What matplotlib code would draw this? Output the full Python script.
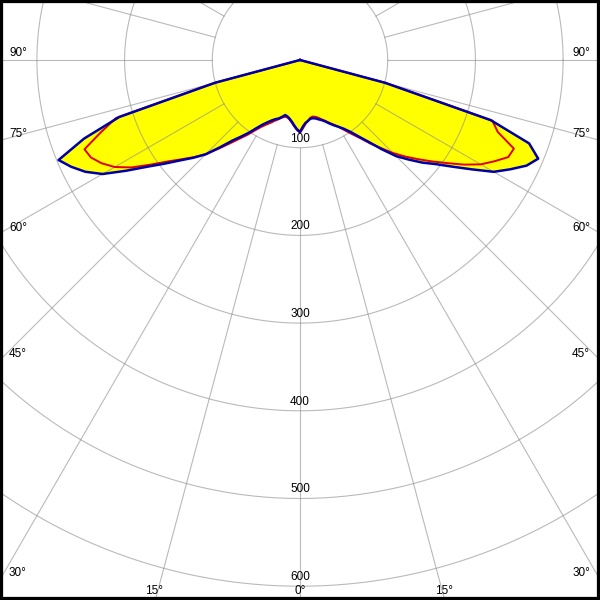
import numpy as np
import matplotlib
matplotlib.use("Agg")
import matplotlib.pyplot as plt

# ---------------------------------------------------------------------------
# Data: luminous intensity (cd) vs gamma angle (deg from nadir), 2.5 deg steps
# ---------------------------------------------------------------------------
gamma = np.arange(0, 92.5, 2.5)

# blue curve, left half (C180) and right half (C0)
blue_left = [82, 79, 75, 71, 68, 66, 65, 68, 71, 73, 76, 80, 85, 92, 101, 110,
             120, 135, 152, 165, 178, 194, 212, 235, 260, 276, 288, 298, 262,
             216, 100, 0, 0, 0, 0, 0, 0]
blue_right = [82, 76, 72, 70, 68, 68, 69, 71, 73, 76, 80, 84, 88, 93, 100, 110,
              122, 138, 155, 168, 182, 195, 212, 232, 255, 270, 285, 294, 278,
              228, 100, 0, 0, 0, 0, 0, 0]

# red curve, left half and right half
red_left = [83, 80, 76, 72, 69, 67, 67, 69, 72, 75, 79, 83, 88, 95, 104, 113,
            124, 137, 152, 164, 176, 190, 208, 228, 244, 255, 263, 266, 242,
            220, 102, 0, 0, 0, 0, 0, 0]
red_right = [83, 78, 73, 70, 67, 66, 67, 69, 72, 75, 79, 83, 88, 95, 103, 112,
             124, 136, 150, 163, 176, 190, 205, 222, 238, 250, 262, 264, 240,
             230, 102, 0, 0, 0, 0, 0, 0]

ring_values = [100, 200, 300, 400, 500, 600]
spoke_angles = np.arange(0, 360, 15)

left_labels = ["90°", "75°", "60°", "45°", "30°"]
bottom_labels = ["15°", "0°", "15°"]

# ---------------------------------------------------------------------------
# Geometry helpers (pixel layout of the 600x600 picture)
# ---------------------------------------------------------------------------
PX = 100 / 87.7          # cd per pixel
CX, CY = 300, 60         # centre of the diagram in pixels


def px(xp, yp):
    return (xp - CX) * PX, (CY - yp) * PX


def curve_xy(left, right):
    g = np.radians(gamma)
    left = np.asarray(left, float)
    right = np.asarray(right, float)
    xl, yl = -left * np.sin(g), -left * np.cos(g)
    xr, yr = right * np.sin(g), -right * np.cos(g)
    x = np.concatenate([xl[::-1], xr])
    y = np.concatenate([yl[::-1], yr])
    return x, y


fig = plt.figure(figsize=(6, 6), dpi=100)
ax = fig.add_axes([0, 0, 1, 1])
x0, y1 = px(0, 0)
x1, y0 = px(600, 600)
ax.set_xlim(x0, x1)
ax.set_ylim(y0, y1)
ax.set_xticks([])
ax.set_yticks([])
for sp in ax.spines.values():
    sp.set_color("black")
    sp.set_linewidth(4.5)

# yellow fill of the blue curve
bx, by = curve_xy(blue_left, blue_right)
ax.fill(bx, by, color="#ffff00", zorder=1, lw=0)

# grid: rings and spokes (spokes start at the first ring)
grid_kw = dict(color="#8c8c8c", lw=0.8, alpha=0.6, zorder=2)
t = np.linspace(0, 2 * np.pi, 721)
for r in ring_values:
    ax.plot(r * np.cos(t), r * np.sin(t), **grid_kw)
for a in spoke_angles:
    ar = np.radians(a)
    ax.plot([100 * np.sin(ar), 900 * np.sin(ar)],
            [-100 * np.cos(ar), -900 * np.cos(ar)], **grid_kw)

# curves
rx, ry = curve_xy(red_left, red_right)
ax.plot(rx, ry, color="#e00000", lw=1.4, zorder=3)
ax.plot(bx, by, color="#0000a8", lw=1.8, zorder=4)

# text
font = dict(family=["Liberation Sans", "DejaVu Sans"], fontsize=8.5, color="black")
for r in ring_values:
    ax.text(0, -r + 3.0 * PX, str(r), ha="center", va="bottom", zorder=5, **font)

left_y = [53, 134, 228, 354, 573]
for lab, yp in zip(left_labels, left_y):
    ax.text(*px(9, yp), lab, ha="left", va="center", zorder=5, **font)
    ax.text(*px(590, yp), lab, ha="right", va="center", zorder=5, **font)

for lab, xp in zip(bottom_labels, [154, 300, 444]):
    ax.text(*px(xp, 591), lab, ha="center", va="center", zorder=5, **font)

fig.savefig("out.png", dpi=100)
